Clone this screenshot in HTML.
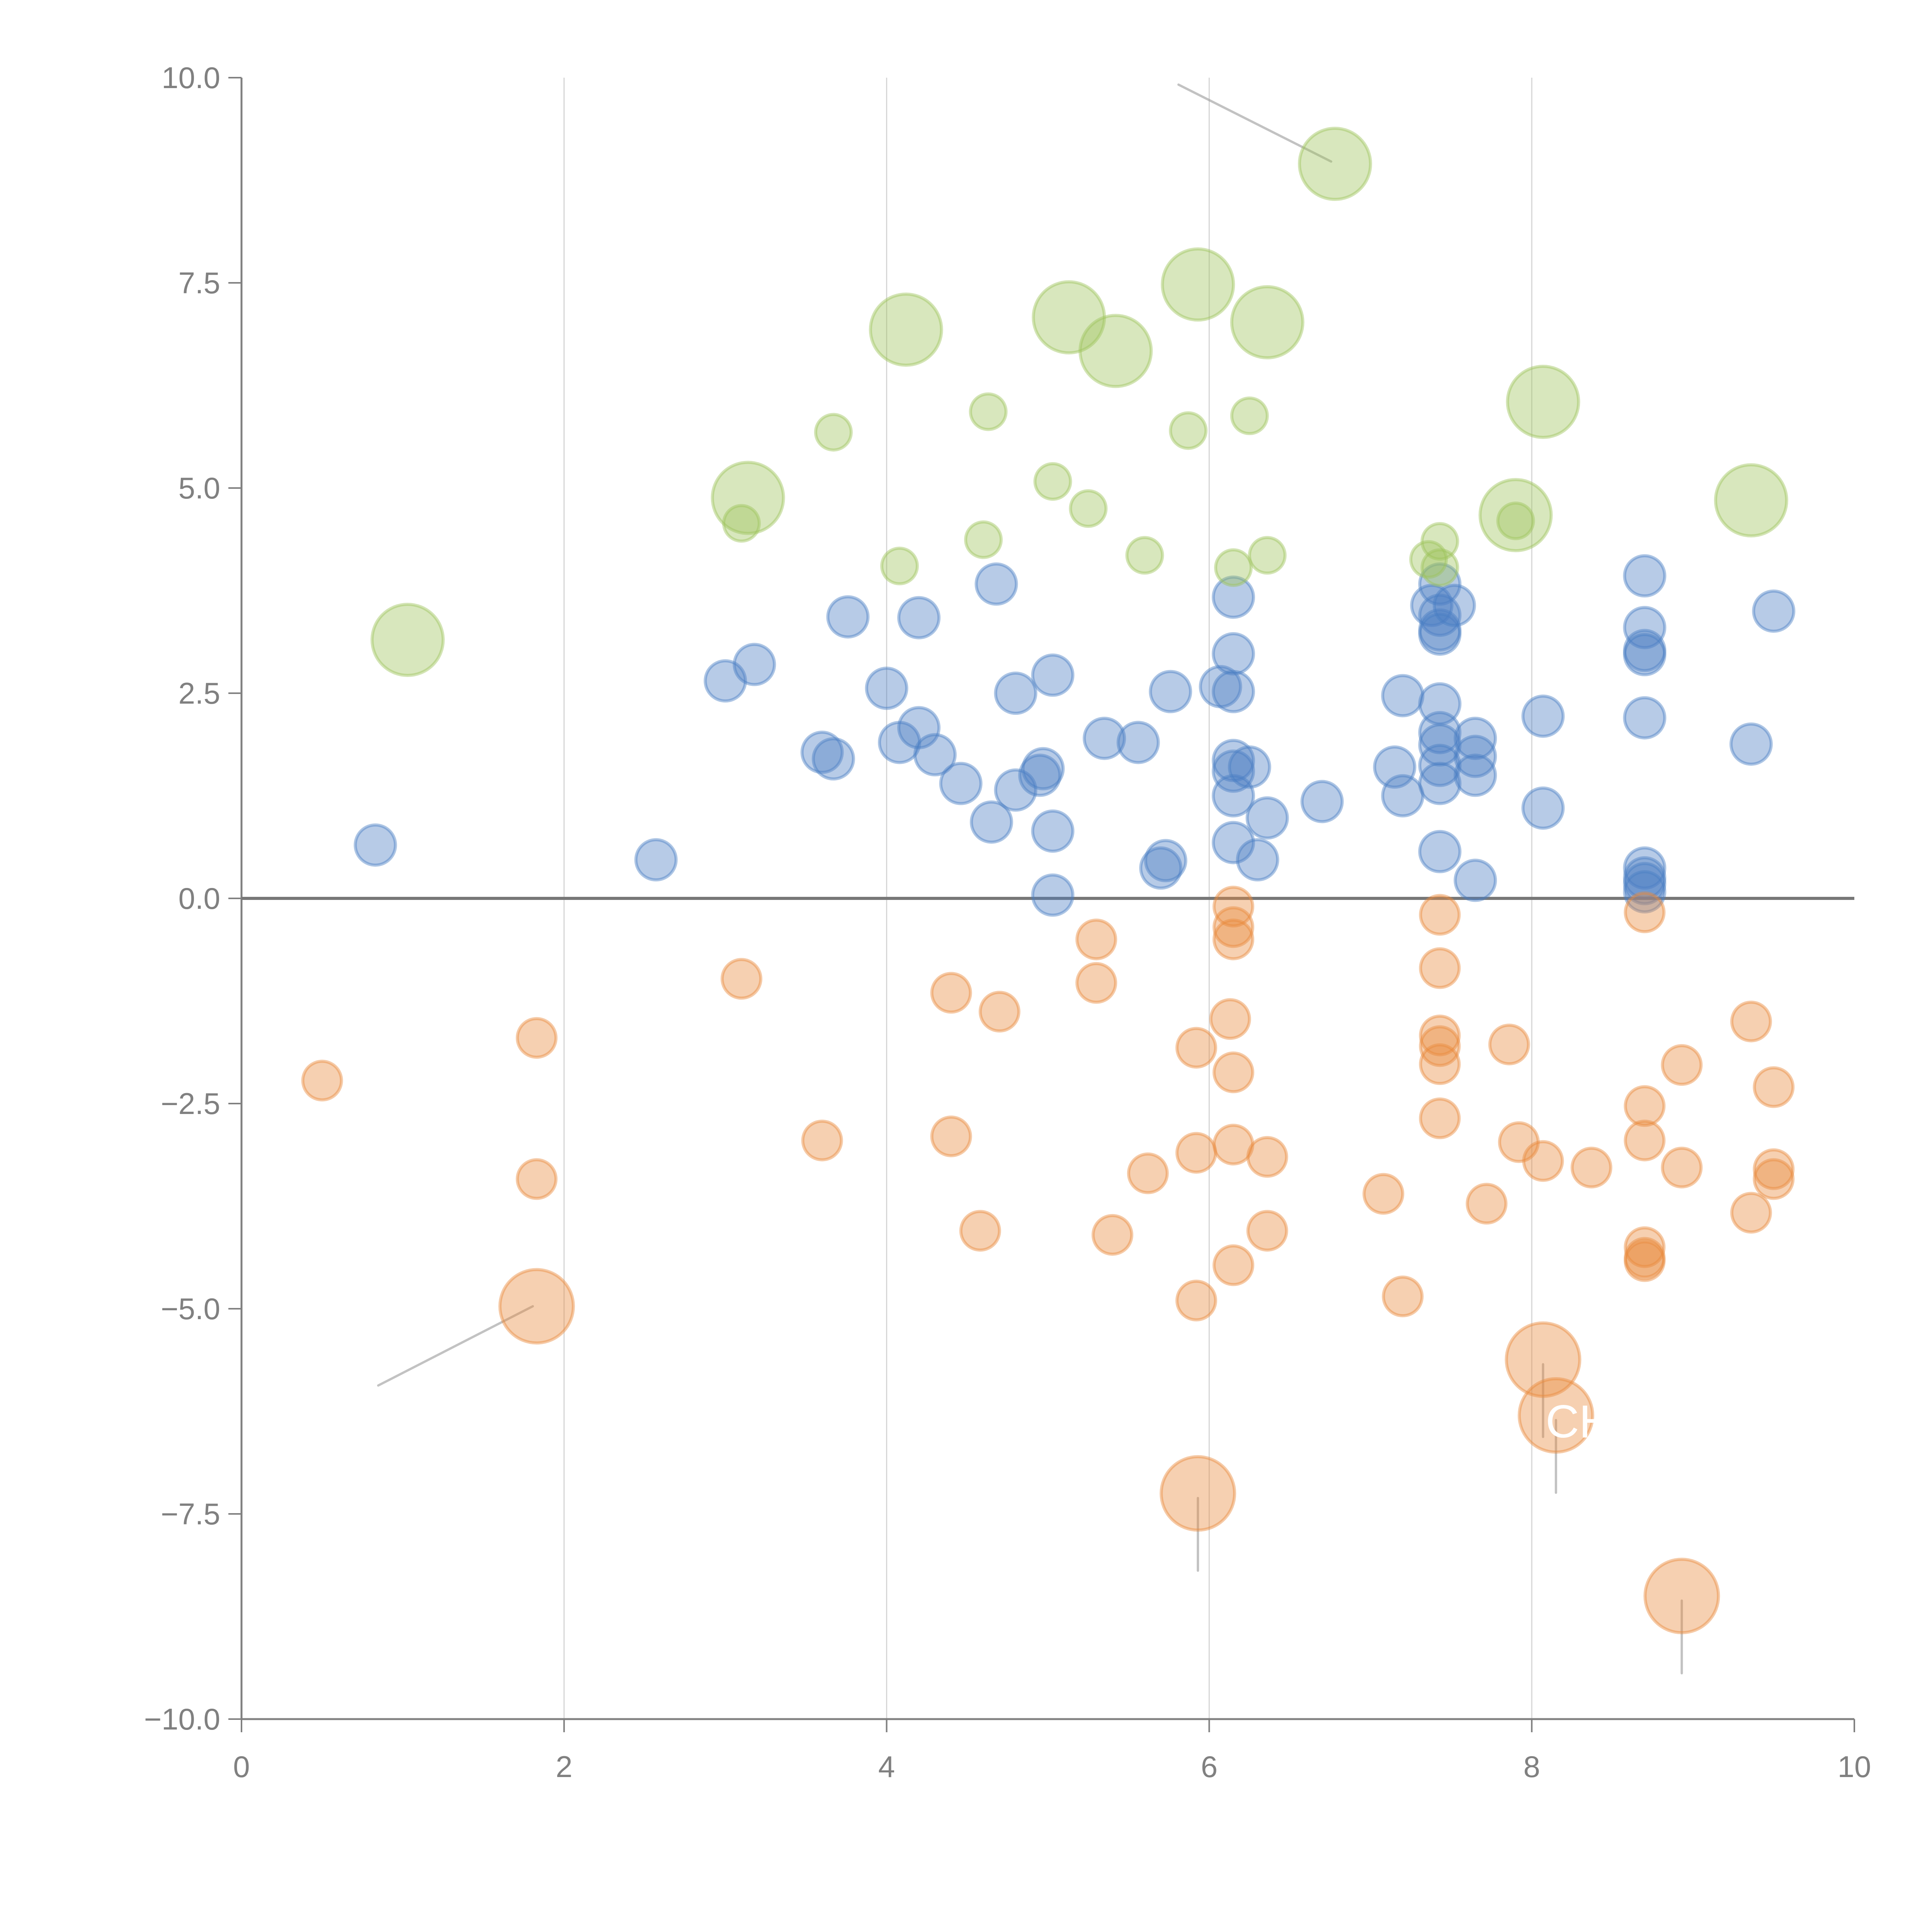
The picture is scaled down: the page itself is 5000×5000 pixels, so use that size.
<!DOCTYPE html>
<html><head><meta charset="utf-8"><style>html,body{margin:0;padding:0;background:#fff}svg{display:block}</style></head>
<body>
<svg id="chart" xmlns="http://www.w3.org/2000/svg" width="5000" height="5000" viewBox="0 0 5000 5000" font-family="Liberation Sans, sans-serif">
<g id="grid"></g>
<g id="axes"></g>
<g id="leaders"></g>
<g id="marks"></g>
<text x="4000" y="3720" font-size="120" fill="#fff">CH</text>
</svg>
<script>
const xTicks = [0, 2, 4, 6, 8, 10];
const yTicks = [-10, -7.5, -5, -2.5, 0, 2.5, 5, 7.5, 10];
const yTickLabels = ["\u221210.0","\u22127.5","\u22125.0","\u22122.5","0.0","2.5","5.0","7.5","10.0"];
const blueX = [0.83,2.57,3.0,3.18,3.6,3.67,3.76,4.0,4.08,4.2,4.2,4.3,4.46,4.65,4.68,4.8,4.8,4.95,4.97,5.03,5.03,5.03,5.35,5.56,5.7,5.73,5.76,6.07,6.15,6.15,6.15,6.15,6.15,6.15,6.15,6.25,6.3,6.36,6.7,7.15,7.2,7.2,7.38,7.43,7.43,7.43,7.43,7.43,7.43,7.43,7.43,7.43,7.43,7.52,7.65,7.65,7.65,7.65,8.07,8.07,8.7,8.7,8.7,8.7,8.7,8.7,8.7,8.7,8.7,9.36,9.5];
const blueY = [0.65,0.47,2.65,2.85,1.78,1.7,3.43,2.56,1.9,2.08,3.42,1.75,1.4,0.93,3.83,2.5,1.32,1.5,1.58,2.72,0.82,0.04,1.95,1.9,0.37,0.46,2.52,2.58,3.67,2.98,2.52,1.68,1.55,1.25,0.68,1.6,0.47,0.98,1.18,1.6,2.47,1.25,3.57,3.83,3.45,3.27,3.22,2.37,2.02,1.87,1.62,1.4,0.57,3.57,1.95,1.73,1.5,0.22,2.22,1.1,3.93,3.3,3.02,2.97,2.2,0.37,0.25,0.18,0.08,1.88,3.5];
const orangeX = [0.5,1.83,1.83,3.1,3.6,4.4,4.4,4.7,4.58,5.3,5.3,5.4,5.62,5.92,5.92,5.92,6.13,6.15,6.15,6.15,6.15,6.15,6.15,6.36,6.36,7.08,7.2,7.43,7.43,7.43,7.43,7.43,7.43,7.72,7.86,7.92,8.07,8.37,8.7,8.7,8.7,8.7,8.7,8.7,8.93,8.93,9.36,9.36,9.5,9.5,9.5];
const orangeY = [-2.22,-1.7,-3.42,-0.98,-2.95,-1.15,-2.9,-1.38,-4.05,-0.5,-1.03,-4.1,-3.35,-1.82,-3.1,-4.9,-1.47,-0.1,-0.35,-0.5,-2.12,-3.0,-4.47,-3.15,-4.05,-3.6,-4.85,-0.2,-0.85,-1.67,-1.8,-2.02,-2.68,-3.72,-1.78,-2.97,-3.2,-3.28,-0.17,-2.53,-2.95,-4.25,-4.38,-4.42,-2.03,-3.28,-1.5,-3.83,-2.3,-3.3,-3.42];
const orangeBigX = [1.83,8.07,8.15,5.93,8.93];
const orangeBigY = [-4.97,-5.62,-6.3,-7.25,-8.5];
const greenX = [3.1,3.67,4.08,4.6,4.63,5.03,5.25,5.6,5.87,6.15,6.25,6.36,7.36,7.43,7.43,7.9];
const greenY = [4.57,5.68,4.05,4.37,5.93,5.08,4.75,4.18,5.7,4.03,5.88,4.18,4.13,4.35,4.03,4.6];
const greenBigX = [1.03,3.14,4.12,5.13,5.42,5.93,6.36,6.78,8.07,7.9,9.36];
const greenBigY = [3.15,4.88,6.93,7.08,6.67,7.48,7.02,8.95,6.05,4.67,4.85];

const NS = "http://www.w3.org/2000/svg";
const X0 = 625, X1 = 4799, Y0 = 4449, Y1 = 201;
function sx(v){ return X0 + (v - 0) / 10 * (X1 - X0); }
function sy(v){ return Y0 - (v + 10) / 20 * (Y0 - Y1); }
function mk(tag, attrs, parent){ const e = document.createElementNS(NS, tag); for (const k in attrs) e.setAttribute(k, attrs[k]); parent.appendChild(e); return e; }
const grid = document.getElementById('grid'), axes = document.getElementById('axes'), marks = document.getElementById('marks'), leaders = document.getElementById('leaders');

xTicks.forEach(t => {
  if (t > 0 && t < 10) {
    const g = mk('line', {x1: sx(t), x2: sx(t), y1: Y1, y2: Y0, stroke: '#d6d6d6', 'stroke-width': 3}, grid);
    
    
  }
  const tk = mk('line', {x1: sx(t), x2: sx(t), y1: Y0, y2: Y0 + 34, stroke: '#808080', 'stroke-width': 4}, axes);
  
  
  const lb = mk('text', {x: sx(t), y: Y0 + 150, 'font-size': 78, fill: '#808080', 'text-anchor': 'middle'}, axes);
  lb.textContent = t;
  
  
});
yTicks.forEach((t, i) => {
  const tk = mk('line', {x1: X0 - 34, x2: X0, y1: sy(t), y2: sy(t), stroke: '#808080', 'stroke-width': 4}, axes);
  
  
  const lb = mk('text', {x: X0 - 55, y: sy(t) + 27, 'font-size': 78, fill: '#808080', 'text-anchor': 'end'}, axes);
  lb.textContent = yTickLabels[i];
  
  
});
const ya = mk('line', {x1: X0, x2: X0, y1: Y1, y2: Y0, stroke: '#808080', 'stroke-width': 5}, axes);


const xa = mk('line', {x1: X0, x2: X1, y1: Y0, y2: Y0, stroke: '#808080', 'stroke-width': 5}, axes);


const zl = mk('line', {x1: X0, x2: X1, y1: sy(0), y2: sy(0), stroke: '#777', 'stroke-width': 8}, axes);



function series(xs, ys, r, fill, stroke, name){
  xs.forEach((x, i) => {
    const c = mk('circle', {cx: sx(x), cy: sy(ys[i]), r: r, fill: fill, 'fill-opacity': 0.4, stroke: stroke, 'stroke-opacity': 0.45, 'stroke-width': 8}, marks);
    
    
  });
}
series(blueX, blueY, 52, '#4a7ec4', '#4a7ec4', 'blue-bubble');
series(orangeX, orangeY, 50, '#e8893c', '#e8893c', 'orange-bubble');
series(greenX, greenY, 46, '#9dc35a', '#9dc35a', 'green-bubble');

// leader lines (label connectors) relative to big bubbles
function leader(x1, y1, x2, y2){
  const l = mk('line', {x1: x1, y1: y1, x2: x2, y2: y2, stroke: '#999', 'stroke-opacity': 0.6, 'stroke-width': 6, 'stroke-linecap': 'round'}, leaders);
  
  
}
series(greenBigX, greenBigY, 92, '#9dc35a', '#9dc35a', 'green-large-bubble');
series(orangeBigX, orangeBigY, 95, '#e8893c', '#e8893c', 'orange-large-bubble');
leader(sx(greenBigX[7]) - 10, sy(greenBigY[7]) - 6, sx(greenBigX[7]) - 405, sy(greenBigY[7]) - 205);
leader(sx(orangeBigX[0]) - 10, sy(orangeBigY[0]) + 0, sx(orangeBigX[0]) - 410, sy(orangeBigY[0]) + 205);
[1,2,3,4].forEach(i => leader(sx(orangeBigX[i]), sy(orangeBigY[i]) + 12, sx(orangeBigX[i]), sy(orangeBigY[i]) + 200));
</script>
</body></html>
